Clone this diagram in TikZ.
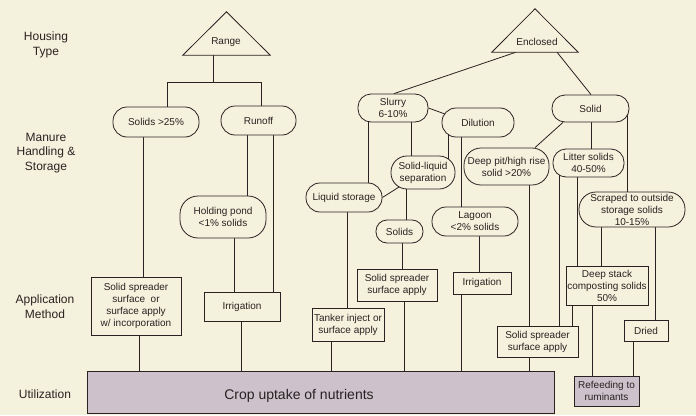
\documentclass[tikz,border=0pt]{standalone}
\usepackage{fontspec}
\setmainfont{Liberation Sans}
\usetikzlibrary{backgrounds,calc}
\definecolor{bg}{HTML}{F4F1DC}
\definecolor{ink}{HTML}{2A2222}
\definecolor{lav}{HTML}{CDC1CB}
\tikzset{
  pill/.style={draw=ink, fill=bg, rounded corners=#1, line width=0.8pt, inner sep=0pt, align=center, font=\fontsize{10}{12}\selectfont, text=ink},
  pill/.default=13pt,
  box/.style={draw=ink, fill=bg, line width=0.8pt, inner sep=0pt, align=center, font=\fontsize{10}{12}\selectfont, text=ink},
  conn/.style={draw=ink, line width=0.8pt},
  side/.style={align=center, font=\fontsize{12}{14.5}\selectfont, text=ink},
  trilabel/.style={font=\fontsize{10}{12}\selectfont, text=ink, inner sep=0pt},
  tribox/.style={minimum width=#1, minimum height=43pt, inner sep=0pt},
}
\begin{document}
\begin{tikzpicture}[x=1pt,y=-1pt]
\useasboundingbox (0,0) rectangle (696,415);

% side labels
\node[side] (lhouse) at (46,45) {Housing\\Type};
\node[side] (lmanure) at (46,153) {Manure\\Handling \&\\Storage};
\node[side] (lapp) at (45,306.5) {Application\\Method};
\node[side] (lutil) at (45,394) {Utilization};

% triangles
\node[tribox=87pt] (rangetri) at (226.5,33.5) {};
\draw[conn, fill=bg] (rangetri.south west) -- (rangetri.north) -- (rangetri.south east) -- cycle;
\node[trilabel] (range) at (226,42) {Range};
\node[tribox=86pt] (enctri) at (535,30.5) {};
\draw[conn, fill=bg] (enctri.south west) -- (enctri.north) -- (enctri.south east) -- cycle;
\node[trilabel] (enclosed) at (537,42) {Enclosed};

% manure handling
\node[pill=14pt, minimum width=86pt, minimum height=30pt] (solids25) at (156,122) {Solids >25\%};
\node[pill=14pt, minimum width=75pt, minimum height=29pt] (runoff) at (258.5,120.5) {Runoff};
\node[pill=18pt, minimum width=86pt, minimum height=42pt] (hold) at (223,217) {Holding pond\\<1\% solids};
\node[pill=13pt, minimum width=70pt, minimum height=28pt] (slurry) at (393,108) {Slurry\\6-10\%};
\node[pill=14pt, minimum width=72pt, minimum height=29pt] (dilution) at (478,122.5) {Dilution};
\node[pill=13pt, minimum width=77pt, minimum height=27pt] (solid) at (590.5,108.5) {Solid};
\node[pill=16pt, minimum width=64pt, minimum height=33pt] (sls) at (423,172.5) {Solid-liquid\\separation};
\node[pill=14pt, minimum width=76pt, minimum height=29pt] (liqst) at (344,197.5) {Liquid storage};
\node[pill=14pt, minimum width=86pt, minimum height=29pt] (lagoon) at (475,221.5) {Lagoon\\<2\% solids};
\node[pill=11pt, minimum width=47pt, minimum height=23pt] (solids) at (399.5,231.5) {Solids};
\node[pill=17pt, minimum width=85pt, minimum height=37pt] (deeppit) at (506.5,166.5) {Deep pit/high rise\\solid >20\%};
\node[pill=13pt, minimum width=71pt, minimum height=28pt] (litter) at (588.5,163) {Litter solids\\40-50\%};
\node[pill=17pt, minimum width=106pt, minimum height=35pt] (scraped) at (632,209.5) {Scraped to outside\\storage solids\\10-15\%};

% application
\node[box, minimum width=90pt, minimum height=58pt] (spread1) at (136,306) {Solid spreader\\surface\ \ or\\surface apply\\w/ incorporation};
\node[box, minimum width=76pt, minimum height=29pt] (irr1) at (242,306.5) {Irrigation};
\node[box, minimum width=72pt, minimum height=33pt] (tanker) at (348,324.5) {Tanker inject or\\surface apply};
\node[box, minimum width=80pt, minimum height=32pt] (spread2) at (397,285) {Solid spreader\\surface apply};
\node[box, minimum width=58pt, minimum height=22pt] (irr2) at (482,283) {Irrigation};
\node[box, minimum width=81pt, minimum height=31pt] (spread3) at (537.5,341.5) {Solid spreader\\surface apply};
\node[box, minimum width=82pt, minimum height=39pt] (deepstack) at (607,285.5) {Deep stack\\composting solids\\50\%};
\node[box, minimum width=44pt, minimum height=21pt] (dried) at (646,330.5) {Dried};

% utilization
\node[box, fill=lav, minimum width=467pt, minimum height=42pt] (crop) at (320.5,392) {};
\node[text=ink, font=\fontsize{14}{16}\selectfont, inner sep=0pt] (croptxt) at (299,396) {Crop uptake of nutrients};
\node[box, fill=lav, minimum width=65pt, minimum height=30pt] (refeed) at (606.5,391) {Refeeding to\\ruminants};

\begin{scope}[on background layer]
\fill[bg] (0,0) rectangle (696,415);
% range
\draw[conn] (rangetri.south -| 213,0) -- (213,82);
\draw[conn] (solids25.north -| 167,0) -- (167,82) -- (261,82) -- (runoff.north -| 261,0);
\draw[conn] (solids25.center -| 143,0) -- (spread1.center -| 143,0);
\draw[conn] (runoff.center -| 247,0) -- (hold.center -| 247,0);
\draw[conn] (runoff.center -| 273,0) -- (irr1.center -| 273,0);
\draw[conn] (hold.center -| 234,0) -- (irr1.center -| 234,0);
\draw[conn] (spread1.center -| 139,0) -- (crop.center -| 139,0);
\draw[conn] (irr1.center -| 241,0) -- (crop.center -| 241,0);
% enclosed
\draw[conn] (enctri.south -| 516,0) -- (slurry.north -| 394,0);
\draw[conn] (enctri.south -| 557,0) -- (solid.north -| 591,0);
% slurry branch
\draw[conn] (slurry.east) -- ([xshift=5pt,yshift=-1.6pt]dilution.west |- 0,113);
\draw[conn] (slurry.center -| 368,0) -- (liqst.center -| 368,0);
\draw[conn] (slurry.center -| 411,0) -- (sls.center -| 411,0);
\draw[conn] ([yshift=3pt]sls.south -| 400,0) -- (liqst.east);
\draw[conn] (dilution.center -| 448,0) -- (sls.center -| 448,0);
\draw[conn] (dilution.center -| 461,0) -- (lagoon.center -| 461,0);
\draw[conn] (sls.center -| 406,0) -- (solids.center -| 406,0);
\draw[conn] (solids.center -| 402,0) -- (spread2.center -| 402,0);
\draw[conn] (spread2.center -| 404,0) -- (crop.center -| 404,0);
\draw[conn] (liqst.center -| 347,0) -- (tanker.center -| 347,0);
\draw[conn] (tanker.center -| 331,0) -- (crop.center -| 331,0);
\draw[conn] (lagoon.center -| 479,0) -- (irr2.center -| 479,0);
\draw[conn] (irr2.center -| 461,0) -- (crop.center -| 461,0);
% solid branch
\draw[conn] (solid.south -| 563,0) -- (deeppit.north -| 535,0);
\draw[conn] (solid.center -| 591,0) -- (litter.center -| 591,0);
\draw[conn] (solid.center -| 627,0) -- (scraped.center -| 627,0);
\draw[conn] (deeppit.center -| 529,0) -- (spread3.center -| 529,0);
\draw[conn] (litter.center -| 559,0) -- (spread3.center -| 559,0);
\draw[conn] (litter.center -| 577,0) -- (deepstack.center -| 577,0);
\draw[conn] (scraped.center -| 601,0) -- (deepstack.center -| 601,0);
\draw[conn] (scraped.center -| 655,0) -- (dried.center -| 655,0);
\draw[conn] (deepstack.center -| 572,0) -- (spread3.center -| 572,0);
\draw[conn] (deepstack.center -| 592,0) -- (refeed.center -| 592,0);
\draw[conn] (dried.center -| 633,0) -- (refeed.center -| 633,0);
\draw[conn] (spread3.center -| 529,0) -- (crop.center -| 529,0);
\end{scope}
\end{tikzpicture}
\end{document}
